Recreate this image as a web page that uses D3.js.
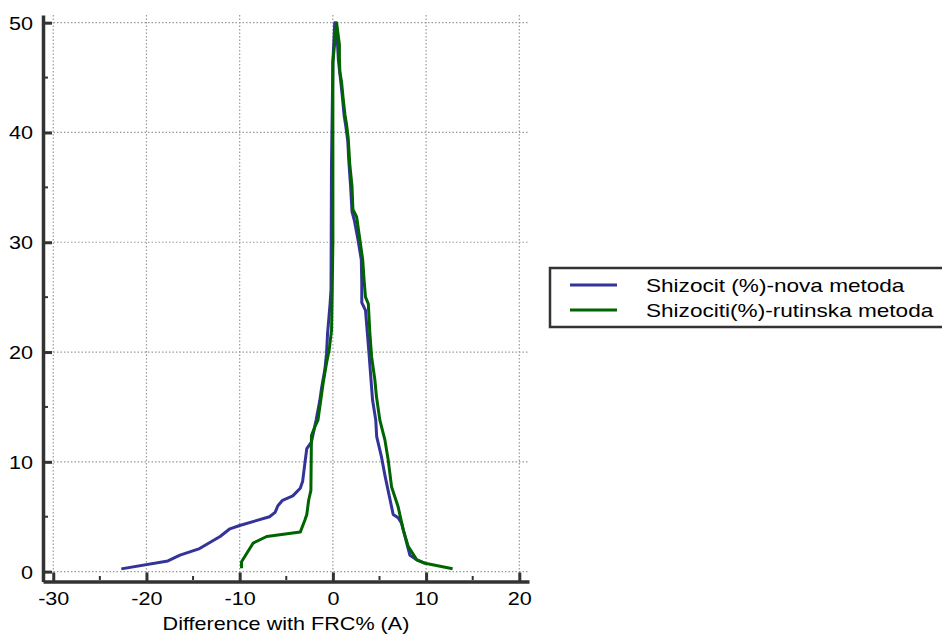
<!DOCTYPE html>
<html><head><meta charset="utf-8">
<script src="https://cdn.jsdelivr.net/npm/d3@7"></script>
<style>body{margin:0;background:#fff;} text{font-family:"Liberation Sans",Arial,sans-serif;}</style>
</head><body><svg id="c" width="942" height="635"></svg>
<script>
const xTicks = [-30, -20, -10, 0, 10, 20];
const xMinor = [-25, -15, -5, 5, 15];
const yTicks = [0, 10, 20, 30, 40, 50];
const yMinor = [5, 15, 25, 35, 45];
const xTitle = "Difference with FRC% (A)";
const seriesNames = ["Shizocit (%)-nova metoda", "Shizociti(%)-rutinska metoda"];
const seriesColors = ["#333399", "#006400"];

const blueX = [-22.7,-17.7,-16.4,-14.3,-12.1,-11.05,-10,-6.8,-6.2,-5.9,-5.4,-4.3,-3.5,-3.25,-3.0,-2.8,-2.3,-2.1,-1.8,-1.4,-1.2,-0.86,-0.68,-0.57,-0.3,-0.2,-0.15,0,0.2,
  0.5,0.6,0.8,1.0,1.2,1.4,1.6,1.7,1.9,2.05,2.3,2.7,3.05,3.1,3.1,3.5,3.7,3.9,4.15,4.26,4.6,4.7,5.2,5.6,6.47,7.0,7.37,8.26,9.0,9.9];
const blueY = [0.25,0.97,1.5,2.1,3.2,3.9,4.2,5.0,5.4,6.0,6.5,6.9,7.6,8.2,9.9,11.2,11.8,12.6,13.8,15.6,16.8,18.4,19.9,21.7,24.4,25.7,37,46.4,50,
  48,46.5,45,43.4,41.6,40.5,39.2,37.5,35.1,32.8,32.0,30.2,28.4,26.3,24.5,23.8,21.7,19.6,16.8,15.6,13.8,12.3,10.5,8.7,5.2,4.9,4.4,1.5,1.07,0.76];

const greenX = [-9.8,-9.8,-8.55,-7.1,-3.5,-3.0,-2.8,-2.6,-2.36,-2.33,-2.3,-1.93,-1.6,-1.04,-0.68,-0.4,-0.14,-0.07,0,0,0.4,
  0.7,0.7,0.75,0.93,1.1,1.3,1.47,1.64,1.75,1.8,2.05,2.15,2.55,2.9,3.2,3.35,3.5,3.8,3.97,4.15,4.5,4.68,5.04,5.4,5.58,5.93,6.3,7.0,7.55,8.08,9.0,9.9,12.84];
const greenY = [0.3,0.9,2.6,3.2,3.6,4.7,5.2,6.5,7.4,9.9,12.4,13.2,13.8,17.2,19.0,20.2,22.0,25.7,30,46.4,50,
  48,46.8,45.5,44.6,43.1,41.6,40.7,39.5,38,37.2,35.1,33,32.3,30.2,28.4,26.5,25.0,24.4,21.7,19.6,17.5,15.9,13.8,12.6,12.0,10.2,7.7,5.9,3.8,2.3,1.07,0.76,0.27];

const SX = 1.2, SXL = 1.255;
const svg = d3.select("#c");
const x = d3.scaleLinear().domain([-31.1, 21.04]).range([43, 529]);
const y = d3.scaleLinear().domain([-0.9, 50.7]).range([581.5, 15]);
const fmt = d => String(d);

// grid
const grid = svg.append("g").attr("stroke", "#9a9a9a").attr("stroke-width", 1.2).attr("stroke-dasharray", "1.5,2");
grid.selectAll(".vg").data(xTicks).join("line")
  .attr("x1", d => x(d)).attr("x2", d => x(d)).attr("y1", y.range()[1]).attr("y2", y.range()[0]);
grid.selectAll(".hg").data(yTicks).join("line")
  .attr("x1", x.range()[0]).attr("x2", x.range()[1]).attr("y1", d => y(d)).attr("y2", d => y(d));

// series
const line = d3.line().x(d => x(d[0])).y(d => y(d[1]));
const series = [d3.zip(blueX, blueY), d3.zip(greenX, greenY)];
svg.selectAll(".s").data(series).join("path")
  .attr("d", line).attr("fill", "none")
  .attr("stroke", (d, i) => seriesColors[i]).attr("stroke-width", 3)
  .attr("stroke-linejoin", "round");

// axes
const yAxis = svg.append("g").attr("transform", "translate(43,0)")
  .call(d3.axisLeft(y).tickValues(yTicks).tickSize(-9).tickSizeOuter(0).tickPadding(8).tickFormat(fmt));
const xAxis = svg.append("g").attr("transform", "translate(0,581.5)")
  .call(d3.axisBottom(x).tickValues(xTicks).tickSize(-9).tickSizeOuter(0).tickPadding(11).tickFormat(fmt));
[yAxis, xAxis].forEach(a => {
  a.attr("color", "#333");
  a.select(".domain").attr("stroke-width", 3.5).attr("stroke", "#333");
  a.selectAll(".tick line").attr("stroke-width", 3).attr("stroke", "#333");
  a.selectAll(".tick text").attr("font-size", 18).attr("fill", "#000")
    .attr("font-family", "Liberation Sans, Arial, sans-serif");
});
yAxis.selectAll(".tick text").attr("x", 0).attr("dy", "0.36em")
  .attr("transform", `translate(-10,0) scale(${SX},1)`);
xAxis.selectAll(".tick text").attr("transform", `scale(${SX},1)`);

// minor ticks
svg.append("g").selectAll("line").data(yMinor).join("line")
  .attr("x1", 44).attr("x2", 48).attr("y1", d => y(d)).attr("y2", d => y(d))
  .attr("stroke", "#333").attr("stroke-width", 2);
svg.append("g").selectAll("line").data(xMinor).join("line")
  .attr("y1", 580).attr("y2", 576).attr("x1", d => x(d)).attr("x2", d => x(d))
  .attr("stroke", "#333").attr("stroke-width", 2);

// x title
svg.append("text").attr("transform", `translate(${(x.range()[0] + x.range()[1]) / 2},630) scale(${SX},1)`)
  .attr("text-anchor", "middle").attr("font-size", 18).attr("fill", "#000").text(xTitle);

// legend
const lg = svg.append("g");
lg.append("rect").attr("x", 550).attr("y", 268).attr("width", 420).attr("height", 59)
  .attr("fill", "#fff").attr("stroke", "#333").attr("stroke-width", 2.5);
const items = lg.selectAll(".li").data(seriesNames).join("g")
  .attr("transform", (d, i) => `translate(0,${285 + i * 25})`);
items.append("line").attr("x1", 570).attr("x2", 617).attr("y1", 0).attr("y2", 0)
  .attr("stroke", (d, i) => seriesColors[i]).attr("stroke-width", 3);
items.append("text").attr("transform", `translate(646,6.5) scale(${SXL},1)`)
  .attr("font-size", 18).attr("fill", "#000").text(d => d);
</script></body></html>
